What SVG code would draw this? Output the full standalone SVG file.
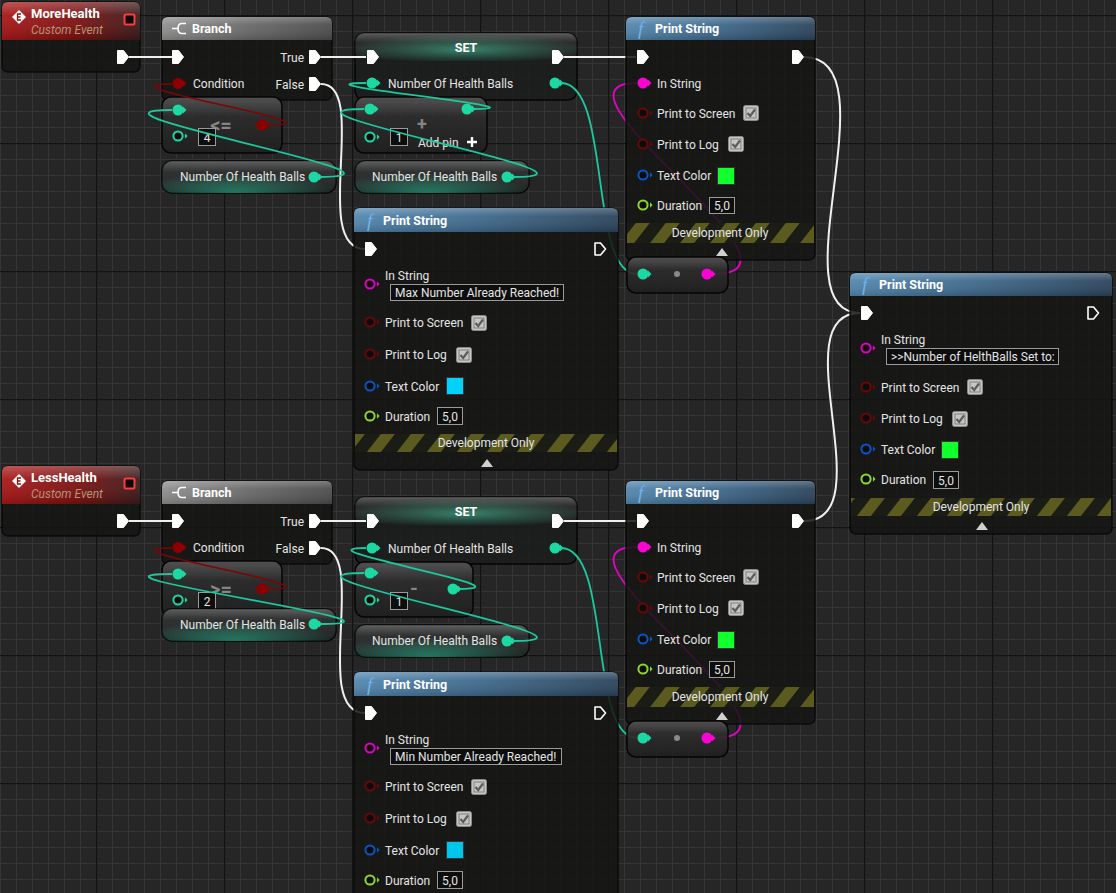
<svg xmlns="http://www.w3.org/2000/svg" width="1116" height="893" viewBox="0 0 1116 893">
<style>
.lbl{font-family:Roboto,"Liberation Sans",sans-serif;font-size:12px;fill:#e4e4e4}
.ttl{font-family:Roboto,"Liberation Sans",sans-serif;font-size:12.5px;font-weight:bold;fill:#ffffff}
.sub{font-family:Roboto,"Liberation Sans",sans-serif;font-size:12px;font-style:italic;fill:#b39572}
.fn{font-family:"Liberation Serif","DejaVu Serif",serif;font-size:19px;font-style:italic;fill:#6fb4ea}
.op{font-family:Roboto,"Liberation Sans",sans-serif;font-size:20px;font-weight:bold;fill:#858585}
.mid{text-anchor:middle}
.end{text-anchor:end}
.body{fill:#151614;fill-opacity:0.86;stroke:#050505;stroke-opacity:0.8;stroke-width:1.5}
.vbox{fill:#0e0e0e;stroke:#9a9a9a;stroke-width:1}
.ew{stroke:#f0f0f0;stroke-width:2;fill:none}
.tw{stroke:#1cc99a;stroke-width:1.8;fill:none}
.rw{stroke:#7c0606;stroke-width:1.6;fill:none}
.mw{stroke:#e800c6;stroke-width:1.8;fill:none}
</style>
<defs>
<pattern id="grid" width="128" height="128" patternUnits="userSpaceOnUse" x="96" y="15">
<rect width="128" height="128" fill="#262626"/>
<path d="M16.5,0V128M32.5,0V128M48.5,0V128M64.5,0V128M80.5,0V128M96.5,0V128M112.5,0V128M0,16.5H128M0,32.5H128M0,48.5H128M0,64.5H128M0,80.5H128M0,96.5H128M0,112.5H128" stroke="#353535" stroke-width="1"/>
<path d="M0.5,0V128M0,0.5H128" stroke="#131313" stroke-width="1.6"/>
</pattern>
<pattern id="stripes" width="30" height="40" patternUnits="userSpaceOnUse" patternTransform="skewX(-38)">
<rect width="30" height="40" fill="#1b1c16"/>
<rect width="14" height="40" fill="#5b5b20"/>
</pattern>
<linearGradient id="gEvt" x1="0" y1="0" x2="1" y2="0"><stop offset="0" stop-color="#a81616"/><stop offset="0.55" stop-color="#7c1010"/><stop offset="1" stop-color="#3a1a1a"/></linearGradient>
<linearGradient id="gBr" x1="0" y1="0" x2="1" y2="0"><stop offset="0" stop-color="#8e8e8e"/><stop offset="0.5" stop-color="#686868"/><stop offset="1" stop-color="#4a4a4a"/></linearGradient>
<linearGradient id="gFn" x1="0" y1="0" x2="1" y2="0"><stop offset="0" stop-color="#5186ae"/><stop offset="0.5" stop-color="#3c6688"/><stop offset="1" stop-color="#29425a"/></linearGradient>
<linearGradient id="gShine" x1="0" y1="0" x2="0" y2="1"><stop offset="0" stop-color="#ffffff" stop-opacity="0.28"/><stop offset="0.35" stop-color="#ffffff" stop-opacity="0.06"/><stop offset="1" stop-color="#000000" stop-opacity="0.15"/></linearGradient>
<radialGradient id="gSet" cx="0.5" cy="0.6" r="0.55"><stop offset="0" stop-color="#2f9a78" stop-opacity="0.8"/><stop offset="0.6" stop-color="#2a7d64" stop-opacity="0.35"/><stop offset="1" stop-color="#2a7d64" stop-opacity="0"/></radialGradient>
<linearGradient id="gOp" x1="0" y1="0" x2="0" y2="1"><stop offset="0" stop-color="#585858"/><stop offset="0.35" stop-color="#2d2d2d"/><stop offset="1" stop-color="#1f1f1f"/></linearGradient>
<radialGradient id="gGet" cx="0.42" cy="1" r="0.6"><stop offset="0" stop-color="#24967a" stop-opacity="0.9"/><stop offset="1" stop-color="#24967a" stop-opacity="0"/></radialGradient>
<path id="exF" d="M-5.5,-6.5 H0.5 L5.5,0 L0.5,6.5 H-5.5 Z" fill="#ffffff" stroke="#ffffff" stroke-width="1" stroke-linejoin="round"/>
<path id="exH" d="M-5,-6 H0.5 L5.5,0 L0.5,6 H-5 Z" fill="none" stroke="#ffffff" stroke-width="1.6" stroke-linejoin="round"/>
<g id="pF"><circle r="5.5"/><path d="M5,-3.5 L8.5,0 L5,3.5 Z"/></g>
<g id="pH"><circle r="4.6" fill="#0c0c0c" stroke-width="2"/><path d="M7,-2.8 L9.6,0 L7,2.8 Z" stroke="none"/></g>
<g id="chk"><rect x="0.5" y="0.5" width="15" height="15" rx="2" fill="#c6c6c6" stroke="#8a8a8a"/><rect x="3" y="3" width="10" height="10" fill="none" stroke="#808080" stroke-width="1"/><path d="M4.5,8 L7.2,11 L12,4.5" fill="none" stroke="#5c5c5c" stroke-width="2.2"/></g>
<path id="tri" d="M-6,4 L0,-4 L6,4 Z" fill="#d0d0d0"/>
</defs>

<rect width="1116" height="893" fill="url(#grid)"/>

<g id="evt-more">
<rect x="2" y="2" width="138" height="70" rx="6" class="body"/>
<path d="M2,40 V8 Q2,2 8,2 H134 Q140,2 140,8 V40 Z" fill="url(#gEvt)"/>
<path d="M2,40 V8 Q2,2 8,2 H134 Q140,2 140,8 V40 Z" fill="url(#gShine)"/>
<path d="M19,10 L26,17 L19,24 L12,17 Z" fill="#ffffff"/>
<path d="M21,14 H17.5 V20 H21 M17.5,17 H20.5" stroke="#8a1010" stroke-width="1.3" fill="none"/>
<text x="31" y="17.5" class="ttl" style="font-size:13px">MoreHealth</text>
<text x="31" y="33.5" class="sub">Custom Event</text>
<rect x="124.5" y="14.5" width="10" height="10" rx="1.5" fill="#0a0a0a" stroke="#ff3b3b" stroke-width="2"/>
<use href="#exF" x="123" y="57"/>
</g>

<g id="evt-less" transform="translate(0,464)">
<rect x="2" y="2" width="138" height="70" rx="6" class="body"/>
<path d="M2,40 V8 Q2,2 8,2 H134 Q140,2 140,8 V40 Z" fill="url(#gEvt)"/>
<path d="M2,40 V8 Q2,2 8,2 H134 Q140,2 140,8 V40 Z" fill="url(#gShine)"/>
<path d="M19,10 L26,17 L19,24 L12,17 Z" fill="#ffffff"/>
<path d="M21,14 H17.5 V20 H21 M17.5,17 H20.5" stroke="#8a1010" stroke-width="1.3" fill="none"/>
<text x="31" y="17.5" class="ttl" style="font-size:13px">LessHealth</text>
<text x="31" y="33.5" class="sub">Custom Event</text>
<rect x="124.5" y="14.5" width="10" height="10" rx="1.5" fill="#0a0a0a" stroke="#ff3b3b" stroke-width="2"/>
<use href="#exF" x="123" y="57"/>
</g>

<g id="branch-top">
<rect x="162" y="17" width="170" height="83" rx="6" class="body"/>
<path d="M162,40 V23 Q162,17 168,17 H326 Q332,17 332,23 V40 Z" fill="url(#gBr)"/>
<path d="M162,40 V23 Q162,17 168,17 H326 Q332,17 332,23 V40 Z" fill="url(#gShine)"/>
<path d="M186,23.5 H182 Q178,23.5 178,28.5 Q178,33.5 182,33.5 H186 M172,28.5 H178" stroke="#ffffff" stroke-width="1.6" fill="none"/>
<text x="192" y="32.5" class="ttl">Branch</text>
<use href="#exF" x="178" y="57"/>
<text x="304" y="61.5" class="lbl end">True</text>
<use href="#exF" x="315" y="57"/>
<use href="#pF" x="178" y="83.5" fill="#8e0000"/>
<text x="193" y="88" class="lbl">Condition</text>
<text x="304" y="88.5" class="lbl end">False</text>
<use href="#exF" x="315" y="84"/>
</g>

<g id="branch-bottom" transform="translate(0,464)">
<rect x="162" y="17" width="170" height="83" rx="6" class="body"/>
<path d="M162,40 V23 Q162,17 168,17 H326 Q332,17 332,23 V40 Z" fill="url(#gBr)"/>
<path d="M162,40 V23 Q162,17 168,17 H326 Q332,17 332,23 V40 Z" fill="url(#gShine)"/>
<path d="M186,23.5 H182 Q178,23.5 178,28.5 Q178,33.5 182,33.5 H186 M172,28.5 H178" stroke="#ffffff" stroke-width="1.6" fill="none"/>
<text x="192" y="32.5" class="ttl">Branch</text>
<use href="#exF" x="178" y="57"/>
<text x="304" y="61.5" class="lbl end">True</text>
<use href="#exF" x="315" y="57"/>
<use href="#pF" x="178" y="83.5" fill="#8e0000"/>
<text x="193" y="88" class="lbl">Condition</text>
<text x="304" y="88.5" class="lbl end">False</text>
<use href="#exF" x="315" y="84"/>
</g>

<g id="cmp-le">
<rect x="162" y="97" width="120" height="56" rx="9" fill="url(#gOp)" fill-opacity="0.9" stroke="#050505" stroke-width="1.5"/>
<text x="221" y="132" class="op mid">&lt;=</text>
<use href="#pF" x="178" y="110" fill="#1ed8a4"/>
<use href="#pH" x="178" y="136" fill="#1ed8a4" stroke="#1ed8a4"/>
<rect x="198.5" y="128.5" width="17" height="17" class="vbox"/>
<text x="207" y="141.5" class="lbl mid">4</text>
<use href="#pF" x="262" y="125" fill="#8e0000"/>
</g>

<g id="cmp-ge" transform="translate(0,464)">
<rect x="162" y="97" width="120" height="56" rx="9" fill="url(#gOp)" fill-opacity="0.9" stroke="#050505" stroke-width="1.5"/>
<text x="221" y="132" class="op mid">&gt;=</text>
<use href="#pF" x="178" y="110" fill="#1ed8a4"/>
<use href="#pH" x="178" y="136" fill="#1ed8a4" stroke="#1ed8a4"/>
<rect x="198.5" y="128.5" width="17" height="17" class="vbox"/>
<text x="207" y="141.5" class="lbl mid">2</text>
<use href="#pF" x="262" y="125" fill="#8e0000"/>
</g>

<g id="get-1">
<rect x="162" y="161" width="174" height="32" rx="10" fill="#202322" fill-opacity="0.92" stroke="#050505" stroke-width="1.5"/>
<rect x="162" y="161" width="174" height="32" rx="10" fill="url(#gGet)"/>
<rect x="162" y="161" width="174" height="32" rx="10" fill="url(#gShine)"/>
<text x="180" y="181" class="lbl">Number Of Health Balls</text>
<use href="#pF" x="314" y="177" fill="#1ed8a4"/>
</g>

<g id="get-3">
<rect x="162" y="609" width="174" height="32" rx="10" fill="#202322" fill-opacity="0.92" stroke="#050505" stroke-width="1.5"/>
<rect x="162" y="609" width="174" height="32" rx="10" fill="url(#gGet)"/>
<rect x="162" y="609" width="174" height="32" rx="10" fill="url(#gShine)"/>
<text x="180" y="628.5" class="lbl">Number Of Health Balls</text>
<use href="#pF" x="314" y="624" fill="#1ed8a4"/>
</g>

<g id="set-top">
<rect x="355" y="33" width="222" height="67" rx="9" fill="#1c1e1d" fill-opacity="0.9" stroke="#050505" stroke-width="1.5"/>
<rect x="355" y="33" width="222" height="28" rx="9" fill="url(#gSet)"/>
<rect x="355" y="33" width="222" height="28" rx="9" fill="url(#gShine)"/>
<text x="466" y="52" class="ttl mid">SET</text>
<use href="#exF" x="373" y="57"/>
<use href="#exF" x="558" y="57"/>
<use href="#pF" x="372" y="83" fill="#1ed8a4"/>
<text x="388" y="88" class="lbl">Number Of Health Balls</text>
<use href="#pF" x="555" y="83" fill="#1ed8a4"/>
</g>

<g id="set-bottom" transform="translate(0,464)">
<rect x="355" y="33" width="222" height="67" rx="9" fill="#1c1e1d" fill-opacity="0.9" stroke="#050505" stroke-width="1.5"/>
<rect x="355" y="33" width="222" height="28" rx="9" fill="url(#gSet)"/>
<rect x="355" y="33" width="222" height="28" rx="9" fill="url(#gShine)"/>
<text x="466" y="52" class="ttl mid">SET</text>
<use href="#exF" x="373" y="57"/>
<use href="#exF" x="558" y="57"/>
<use href="#pF" x="372" y="84" fill="#1ed8a4"/>
<text x="388" y="88.5" class="lbl">Number Of Health Balls</text>
<use href="#pF" x="555" y="84" fill="#1ed8a4"/>
</g>

<g id="add">
<rect x="355" y="97" width="132" height="56" rx="9" fill="url(#gOp)" fill-opacity="0.9" stroke="#050505" stroke-width="1.5"/>
<text x="422" y="130" class="op mid" style="font-size:18px">+</text>
<use href="#pF" x="370" y="109" fill="#1ed8a4"/>
<use href="#pH" x="370" y="137" fill="#1ed8a4" stroke="#1ed8a4"/>
<rect x="390.5" y="128.5" width="17" height="17" class="vbox"/>
<text x="399" y="141.5" class="lbl mid">1</text>
<use href="#pF" x="467" y="109" fill="#1ed8a4"/>
<text x="418" y="146.5" class="lbl">Add pin</text>
<path d="M467,142 H477 M472,137 V147" stroke="#ffffff" stroke-width="2.4"/>
</g>

<g id="subtract">
<rect x="355" y="562" width="118" height="55" rx="9" fill="url(#gOp)" fill-opacity="0.9" stroke="#050505" stroke-width="1.5"/>
<text x="414" y="595" class="op mid">-</text>
<use href="#pF" x="370" y="573" fill="#1ed8a4"/>
<use href="#pH" x="370" y="600" fill="#1ed8a4" stroke="#1ed8a4"/>
<rect x="390.5" y="592.5" width="17" height="17" class="vbox"/>
<text x="399" y="605.5" class="lbl mid">1</text>
<use href="#pF" x="453" y="589" fill="#1ed8a4"/>
</g>

<g id="get-2">
<rect x="355" y="161" width="174" height="32" rx="10" fill="#202322" fill-opacity="0.92" stroke="#050505" stroke-width="1.5"/>
<rect x="355" y="161" width="174" height="32" rx="10" fill="url(#gGet)"/>
<rect x="355" y="161" width="174" height="32" rx="10" fill="url(#gShine)"/>
<text x="372" y="181" class="lbl">Number Of Health Balls</text>
<use href="#pF" x="507" y="177" fill="#1ed8a4"/>
</g>

<g id="get-4">
<rect x="355" y="625" width="174" height="32" rx="10" fill="#202322" fill-opacity="0.92" stroke="#050505" stroke-width="1.5"/>
<rect x="355" y="625" width="174" height="32" rx="10" fill="url(#gGet)"/>
<rect x="355" y="625" width="174" height="32" rx="10" fill="url(#gShine)"/>
<text x="372" y="645" class="lbl">Number Of Health Balls</text>
<use href="#pF" x="507" y="641" fill="#1ed8a4"/>
</g>

<g id="connectors">
<path class="ew" d="M129,57 H172"/>
<path class="ew" d="M321,57 H366"/>
<path class="ew" d="M564,57 H636"/>
<path class="ew" d="M321,84 C370,84 310,249 365,249"/>
<path class="ew" d="M804,57 C895,57 775,313 860,313"/>
<path class="ew" d="M804,521 C885,521 780,313 860,313"/>
<path class="ew" d="M129,521 H172"/>
<path class="ew" d="M321,521 H366"/>
<path class="ew" d="M564,521 H636"/>
<path class="ew" d="M321,548 C370,548 310,713 365,713"/>
<path class="tw" d="M320,177 C442,177 52,110 172,110"/>
<path class="tw" d="M513,177 C635,177 245,109 364,109"/>
<path class="tw" d="M473,109 C560,109 280,83 366,83"/>
<path class="tw" d="M561,83 C612,83 588,274 637,274"/>
<path class="tw" d="M320,624 C442,624 52,574 172,574"/>
<path class="tw" d="M513,641 C635,641 245,573 364,573"/>
<path class="tw" d="M459,589 C540,589 290,548 366,548"/>
<path class="tw" d="M561,548 C612,548 588,738 637,738"/>
<path class="rw" d="M268,125 C355,125 85,84 172,84"/>
<path class="rw" d="M268,589 C355,589 85,548 172,548"/>
<path class="mw" d="M713,274 C830,274 530,83 637,83"/>
<path class="mw" d="M713,738 C830,738 530,547 637,547"/>
</g>

<g id="print-1">
<rect x="626" y="17" width="189" height="243" rx="6" class="body"/>
<path d="M626,40 V23 Q626,17 632,17 H809 Q815,17 815,23 V40 Z" fill="url(#gFn)"/>
<path d="M626,40 V23 Q626,17 632,17 H809 Q815,17 815,23 V40 Z" fill="url(#gShine)"/>
<text x="638" y="35" class="fn">f</text>
<text x="655" y="33" class="ttl">Print String</text>
<use href="#exF" x="643" y="57"/>
<use href="#exF" x="798" y="57"/>
<use href="#pF" x="643" y="83" fill="#f706cf"/>
<text x="657" y="88" class="lbl">In String</text>
<use href="#pH" x="643" y="113" fill="#6e0606" stroke="#6e0606"/>
<text x="657" y="118" class="lbl">Print to Screen</text>
<use href="#chk" x="743" y="105"/>
<use href="#pH" x="643" y="144" fill="#6e0606" stroke="#6e0606"/>
<text x="657" y="149" class="lbl">Print to Log</text>
<use href="#chk" x="728" y="136"/>
<use href="#pH" x="643" y="175" fill="#0a55c8" stroke="#0a55c8"/>
<text x="657" y="180" class="lbl">Text Color</text>
<rect x="717.5" y="167.5" width="17" height="17" fill="#12ff2e" stroke="#333"/>
<use href="#pH" x="643" y="205" fill="#8bd630" stroke="#8bd630"/>
<text x="657" y="210" class="lbl">Duration</text>
<rect x="709.5" y="197.5" width="25" height="16" class="vbox"/>
<text x="722" y="210" class="lbl mid">5,0</text>
<rect x="627" y="223" width="187" height="20" fill="url(#stripes)"/>
<text x="720" y="237" class="lbl mid">Development Only</text>
<use href="#tri" x="722" y="252"/>
</g>

<g id="print-4" transform="translate(0,464)">
<rect x="626" y="17" width="189" height="243" rx="6" class="body"/>
<path d="M626,40 V23 Q626,17 632,17 H809 Q815,17 815,23 V40 Z" fill="url(#gFn)"/>
<path d="M626,40 V23 Q626,17 632,17 H809 Q815,17 815,23 V40 Z" fill="url(#gShine)"/>
<text x="638" y="35" class="fn">f</text>
<text x="655" y="33" class="ttl">Print String</text>
<use href="#exF" x="643" y="57"/>
<use href="#exF" x="798" y="57"/>
<use href="#pF" x="643" y="83" fill="#f706cf"/>
<text x="657" y="88" class="lbl">In String</text>
<use href="#pH" x="643" y="113" fill="#6e0606" stroke="#6e0606"/>
<text x="657" y="118" class="lbl">Print to Screen</text>
<use href="#chk" x="743" y="105"/>
<use href="#pH" x="643" y="144" fill="#6e0606" stroke="#6e0606"/>
<text x="657" y="149" class="lbl">Print to Log</text>
<use href="#chk" x="728" y="136"/>
<use href="#pH" x="643" y="175" fill="#0a55c8" stroke="#0a55c8"/>
<text x="657" y="180" class="lbl">Text Color</text>
<rect x="717.5" y="167.5" width="17" height="17" fill="#12ff2e" stroke="#333"/>
<use href="#pH" x="643" y="205" fill="#8bd630" stroke="#8bd630"/>
<text x="657" y="210" class="lbl">Duration</text>
<rect x="709.5" y="197.5" width="25" height="16" class="vbox"/>
<text x="722" y="210" class="lbl mid">5,0</text>
<rect x="627" y="223" width="187" height="20" fill="url(#stripes)"/>
<text x="720" y="237" class="lbl mid">Development Only</text>
<use href="#tri" x="722" y="252"/>
</g>

<g id="conv-1">
<rect x="627" y="257" width="101" height="36" rx="9" fill="url(#gOp)" fill-opacity="0.92" stroke="#050505" stroke-width="1.5"/>
<use href="#pF" x="643" y="274" fill="#1ed8a4"/>
<circle cx="677" cy="274" r="3" fill="#8a8a8a"/>
<use href="#pF" x="707" y="274" fill="#f706cf"/>
</g>

<g id="conv-2" transform="translate(0,464)">
<rect x="627" y="257" width="101" height="36" rx="9" fill="url(#gOp)" fill-opacity="0.92" stroke="#050505" stroke-width="1.5"/>
<use href="#pF" x="643" y="274" fill="#1ed8a4"/>
<circle cx="677" cy="274" r="3" fill="#8a8a8a"/>
<use href="#pF" x="707" y="274" fill="#f706cf"/>
</g>

<g id="print-2">
<rect x="354" y="208" width="264" height="262" rx="6" class="body"/>
<path d="M354,232 V214 Q354,208 360,208 H612 Q618,208 618,214 V232 Z" fill="url(#gFn)"/>
<path d="M354,232 V214 Q354,208 360,208 H612 Q618,208 618,214 V232 Z" fill="url(#gShine)"/>
<text x="367" y="227" class="fn">f</text>
<text x="383" y="225" class="ttl">Print String</text>
<use href="#exF" x="371" y="249"/>
<use href="#exH" x="600" y="249"/>
<text x="385" y="280" class="lbl">In String</text>
<use href="#pH" x="370" y="284" fill="#e000c4" stroke="#e000c4"/>
<rect x="390.5" y="284.5" width="173" height="16" class="vbox"/>
<text x="395" y="296.5" class="lbl">Max Number Already Reached!</text>
<use href="#pH" x="370" y="322" fill="#6e0606" stroke="#6e0606"/>
<text x="385" y="327" class="lbl">Print to Screen</text>
<use href="#chk" x="471" y="315"/>
<use href="#pH" x="370" y="354" fill="#6e0606" stroke="#6e0606"/>
<text x="385" y="359" class="lbl">Print to Log</text>
<use href="#chk" x="456" y="347"/>
<use href="#pH" x="370" y="386" fill="#0a55c8" stroke="#0a55c8"/>
<text x="385" y="391" class="lbl">Text Color</text>
<rect x="446.5" y="377.5" width="17" height="17" fill="#00d2fb" stroke="#333"/>
<use href="#pH" x="370" y="416" fill="#8bd630" stroke="#8bd630"/>
<text x="385" y="421" class="lbl">Duration</text>
<rect x="437.5" y="407.5" width="25" height="17" class="vbox"/>
<text x="450" y="420.5" class="lbl mid">5,0</text>
<rect x="355" y="434" width="262" height="18" fill="url(#stripes)"/>
<text x="486" y="447" class="lbl mid">Development Only</text>
<use href="#tri" x="487" y="463"/>
</g>

<g id="print-5" transform="translate(0,464)">
<rect x="354" y="208" width="264" height="262" rx="6" class="body"/>
<path d="M354,232 V214 Q354,208 360,208 H612 Q618,208 618,214 V232 Z" fill="url(#gFn)"/>
<path d="M354,232 V214 Q354,208 360,208 H612 Q618,208 618,214 V232 Z" fill="url(#gShine)"/>
<text x="367" y="227" class="fn">f</text>
<text x="383" y="225" class="ttl">Print String</text>
<use href="#exF" x="371" y="249"/>
<use href="#exH" x="600" y="249"/>
<text x="385" y="280" class="lbl">In String</text>
<use href="#pH" x="370" y="284" fill="#e000c4" stroke="#e000c4"/>
<rect x="390.5" y="284.5" width="171" height="16" class="vbox"/>
<text x="395" y="296.5" class="lbl">Min Number Already Reached!</text>
<use href="#pH" x="370" y="322" fill="#6e0606" stroke="#6e0606"/>
<text x="385" y="327" class="lbl">Print to Screen</text>
<use href="#chk" x="471" y="315"/>
<use href="#pH" x="370" y="354" fill="#6e0606" stroke="#6e0606"/>
<text x="385" y="359" class="lbl">Print to Log</text>
<use href="#chk" x="456" y="347"/>
<use href="#pH" x="370" y="386" fill="#0a55c8" stroke="#0a55c8"/>
<text x="385" y="391" class="lbl">Text Color</text>
<rect x="446.5" y="377.5" width="17" height="17" fill="#00c6ec" stroke="#333"/>
<use href="#pH" x="370" y="416" fill="#8bd630" stroke="#8bd630"/>
<text x="385" y="421" class="lbl">Duration</text>
<rect x="437.5" y="407.5" width="25" height="17" class="vbox"/>
<text x="450" y="420.5" class="lbl mid">5,0</text>
</g>

<g id="print-3">
<rect x="850" y="273" width="262" height="261" rx="6" class="body"/>
<path d="M850,296 V279 Q850,273 856,273 H1106 Q1112,273 1112,279 V296 Z" fill="url(#gFn)"/>
<path d="M850,296 V279 Q850,273 856,273 H1106 Q1112,273 1112,279 V296 Z" fill="url(#gShine)"/>
<text x="862" y="291" class="fn">f</text>
<text x="879" y="289" class="ttl">Print String</text>
<use href="#exF" x="867" y="313"/>
<use href="#exH" x="1093" y="313"/>
<text x="881" y="344" class="lbl">In String</text>
<use href="#pH" x="866" y="348" fill="#e000c4" stroke="#e000c4"/>
<rect x="886.5" y="348.5" width="172" height="16" class="vbox"/>
<text x="891" y="360.5" class="lbl">&gt;&gt;Number of HelthBalls Set to:</text>
<use href="#pH" x="866" y="387" fill="#6e0606" stroke="#6e0606"/>
<text x="881" y="392" class="lbl">Print to Screen</text>
<use href="#chk" x="967" y="379"/>
<use href="#pH" x="866" y="418" fill="#6e0606" stroke="#6e0606"/>
<text x="881" y="423" class="lbl">Print to Log</text>
<use href="#chk" x="952" y="411"/>
<use href="#pH" x="866" y="449" fill="#0a55c8" stroke="#0a55c8"/>
<text x="881" y="454" class="lbl">Text Color</text>
<rect x="941.5" y="441.5" width="17" height="17" fill="#12ff2e" stroke="#333"/>
<use href="#pH" x="866" y="479" fill="#8bd630" stroke="#8bd630"/>
<text x="881" y="484" class="lbl">Duration</text>
<rect x="933.5" y="471.5" width="25" height="17" class="vbox"/>
<text x="946" y="484.5" class="lbl mid">5,0</text>
<rect x="851" y="498" width="260" height="18" fill="url(#stripes)"/>
<text x="981" y="511" class="lbl mid">Development Only</text>
<use href="#tri" x="982" y="526"/>
</g>
</svg>
